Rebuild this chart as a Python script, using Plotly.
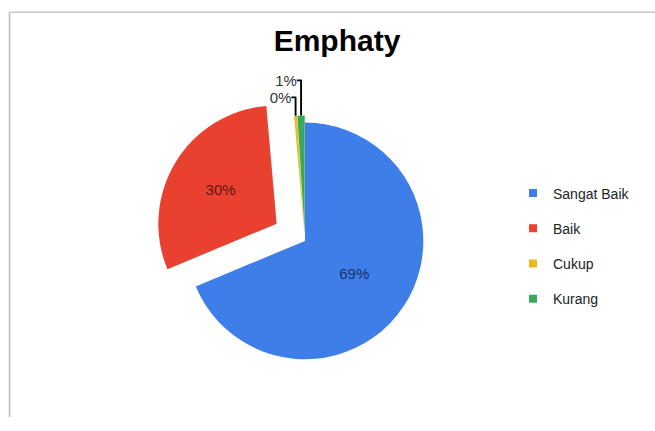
import plotly.graph_objects as go

categories = ["Sangat Baik", "Baik", "Cukup", "Kurang"]
values = [69, 30, 0.4, 1]
colors = ["#3E7EE8", "#E8412F", "#E8BC1E", "#3AA85C"]
text_colors = ["#1B2F6E", "#5E1510", "#333333", "#333333"]
title_text = "Emphaty"

W, H = 655, 431

fig = go.Figure()

fig.add_trace(go.Pie(
    labels=categories,
    values=values,
    sort=False,
    direction="clockwise",
    rotation=0,
    pull=[0, 0.28, 0.06, 0.06],
    marker=dict(colors=colors, line=dict(color="#ffffff", width=0)),
    texttemplate="%{percent:.0%}",
    textposition=["inside", "inside", "outside", "outside"],
    textfont=dict(family="Arial, Liberation Sans", size=15, color=text_colors),
    insidetextorientation="horizontal",
    domain=dict(x=[145 / W, 465 / W], y=[1 - 405 / H, 1 - 85 / H]),
    showlegend=False,
    hoverinfo="label+percent",
))

# legend entries (one per category) for roomier legend spacing
for name, col in zip(categories, colors):
    fig.add_trace(go.Scatter(
        x=[None], y=[None], mode="markers", name=name,
        marker=dict(symbol="square", size=8, color=col),
        legendgroup=name, showlegend=True,
    ))

# chart frame border (left and top edges visible)
fig.add_shape(type="line", xref="paper", yref="paper",
              x0=9.5 / W, x1=9.5 / W, y0=0, y1=1 - 3.5 / H,
              line=dict(color="#b8b8b8", width=1.5))
fig.add_shape(type="line", xref="paper", yref="paper",
              x0=9.5 / W, x1=1, y0=1 - 3.5 / H, y1=1 - 3.5 / H,
              line=dict(color="#c8c8c8", width=1.5))

fig.update_layout(
    width=W, height=H,
    margin=dict(l=0, r=0, t=0, b=0),
    paper_bgcolor="#ffffff",
    plot_bgcolor="#ffffff",
    title=dict(text="<b>" + title_text + "</b>", x=337 / W, xanchor="center",
               y=1 - 40 / H, yanchor="middle",
               font=dict(family="Arial, Liberation Sans", size=30, color="#000000")),
    xaxis=dict(visible=False),
    yaxis=dict(visible=False),
    legend=dict(x=513 / W, y=1 - 178 / H, xanchor="left", yanchor="top",
                font=dict(family="Arial, Liberation Sans", size=14, color="#222222"),
                tracegroupgap=14, itemwidth=30, bgcolor="rgba(0,0,0,0)"),
)

fig.write_html("out.html")
